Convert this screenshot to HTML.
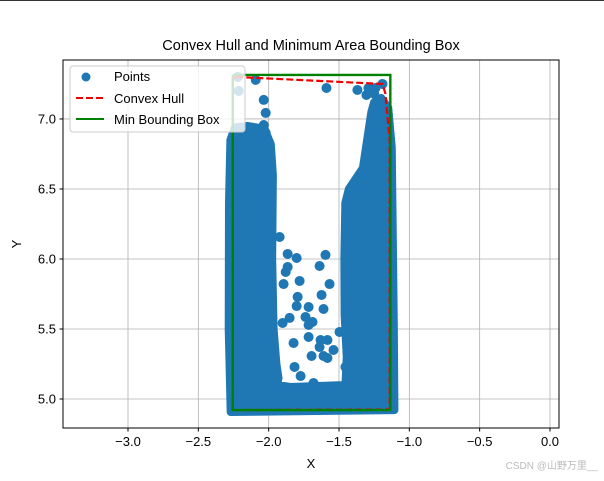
<!DOCTYPE html>
<html><head><meta charset="utf-8"><style>
body{margin:0;background:#fff;width:604px;height:476px;overflow:hidden}
svg text{font-family:"Liberation Sans","DejaVu Sans","Noto Sans CJK SC",sans-serif}
</style></head><body>
<svg id="chart" width="604" height="476" xmlns="http://www.w3.org/2000/svg">
<line x1="0" y1="0.5" x2="604" y2="0.5" stroke="#333" stroke-width="1"/>
<text x="311" y="50" font-size="14.5" text-anchor="middle">Convex Hull and Minimum Area Bounding Box</text>
<g id="grid"></g>
<g id="plot"></g>
<rect x="63" y="60" width="496" height="368" fill="none" stroke="#000" stroke-width="1"/>
<g id="ticks"></g>
<text x="311" y="468" font-size="13" text-anchor="middle">X</text>
<text x="21" y="244" font-size="13" text-anchor="middle" transform="rotate(-90 21 244)">Y</text>
<g>
<rect x="70" y="66" width="175" height="66" rx="3" fill="#fff" fill-opacity="0.8" stroke="#ccc"/>
<circle cx="86" cy="77" r="4.5" fill="#1f77b4"/>
<text x="114" y="81" font-size="13">Points</text>
<line x1="76" y1="98" x2="104" y2="98" stroke="#e00" stroke-width="2" stroke-dasharray="7,3"/>
<text x="114" y="103" font-size="13">Convex Hull</text>
<line x1="76" y1="119" x2="104" y2="119" stroke="#008000" stroke-width="2"/>
<text x="114" y="124" font-size="13">Min Bounding Box</text>
</g>
<text x="598" y="469" font-size="10" fill="#bbb" text-anchor="end">CSDN @山野万里__</text>
</svg>
<script>
const xTicks=[-3.0,-2.5,-2.0,-1.5,-1.0,-0.5,0.0];
const xTickLabels=["−3.0","−2.5","−2.0","−1.5","−1.0","−0.5","0.0"];
const yTicks=[5.0,5.5,6.0,6.5,7.0];
const yTickLabels=["5.0","5.5","6.0","6.5","7.0"];
const denseX=[-2.240,-2.150,-2.030,-1.985,-1.970,-1.975,-1.965,-1.945,-1.930,-1.940,-1.844,-1.454,-1.445,-1.460,-1.462,-1.455,-1.430,-1.330,-1.300,-1.270,-1.250,-1.200,-1.150,-1.125,-1.118,-1.110,-1.106,-2.270,-2.284,-2.282,-2.272];
const denseY=[6.940,6.950,6.930,6.820,6.600,6.000,5.500,5.250,5.150,5.100,5.086,5.100,5.300,5.600,6.000,6.400,6.500,6.650,6.850,7.050,7.120,7.150,7.080,6.800,6.200,5.500,4.921,4.907,5.500,6.400,6.850];
const ptX=[-2.220,-2.092,-1.589,-1.369,-1.291,-1.191,-1.241,-1.305,-2.035,-2.021,-2.035,-2.021,-2.213,-1.922,-1.865,-1.801,-1.596,-1.638,-1.865,-1.879,-1.780,-1.894,-1.567,-1.624,-1.794,-1.801,-1.716,-1.610,-1.738,-1.851,-1.688,-1.716,-1.901,-1.716,-1.631,-1.582,-1.539,-1.638,-1.823,-1.695,-1.610,-1.582,-1.816,-1.773,-1.681,-1.496,-1.454,-1.250];
const ptY=[7.300,7.279,7.221,7.207,7.221,7.250,7.221,7.171,7.136,7.043,6.957,6.900,7.200,6.157,6.036,6.007,6.029,5.950,5.943,5.907,5.843,5.821,5.821,5.743,5.729,5.664,5.657,5.643,5.586,5.579,5.550,5.529,5.543,5.443,5.421,5.421,5.350,5.371,5.400,5.307,5.307,5.293,5.229,5.164,5.114,5.479,5.229,7.180];
const hullX=[-2.23,-1.19,-1.17,-1.14,-1.14,-2.255,-2.255,-2.23];
const hullY=[7.30,7.25,7.18,6.85,4.925,4.921,7.29,7.30];
const boxX=[-2.255,-1.135,-1.135,-2.255,-2.255];
const boxY=[7.314,7.314,4.921,4.921,7.314];
const X0=-3.462,X1=0.064,Y0=4.793,Y1=7.421,L=63,R=559,T=60,B=428;
function sx(v){return L+(v-X0)/(X1-X0)*(R-L);}
function sy(v){return B-(v-Y0)/(Y1-Y0)*(B-T);}
const NS="http://www.w3.org/2000/svg";
function mk(tag,attrs,parent){const e=document.createElementNS(NS,tag);for(const k in attrs)e.setAttribute(k,attrs[k]);parent.appendChild(e);return e;}
const grid=document.getElementById('grid'),ticks=document.getElementById('ticks'),plot=document.getElementById('plot');
xTicks.forEach((v,i)=>{const x=sx(v);
const g=mk('line',{x1:x,y1:T,x2:x,y2:B,stroke:'#b0b0b0','stroke-width':0.8},grid);


const t=mk('line',{x1:x,y1:B,x2:x,y2:B+3.5,stroke:'#000'},ticks);


const l=mk('text',{x:x,y:B+18,'font-size':13,'text-anchor':'middle'},ticks);l.textContent=xTickLabels[i];

});
yTicks.forEach((v,i)=>{const y=sy(v);
const g=mk('line',{x1:L,y1:y,x2:R,y2:y,stroke:'#b0b0b0','stroke-width':0.8},grid);


const t=mk('line',{x1:L-3.5,y1:y,x2:L,y2:y,stroke:'#000'},ticks);


const l=mk('text',{x:L-7,y:y+4.5,'font-size':13,'text-anchor':'end'},ticks);l.textContent=yTickLabels[i];

});
const dp=denseX.map((v,i)=>sx(v)+','+sy(denseY[i])).join(' ');
const dense=mk('polygon',{points:dp,fill:'#1f77b4',stroke:'#1f77b4','stroke-width':8,'stroke-linejoin':'round'},plot);


ptX.forEach((v,i)=>{const c=mk('circle',{cx:sx(v),cy:sy(ptY[i]),r:5,fill:'#1f77b4'},plot);

});
const hull=mk('polyline',{points:hullX.map((v,i)=>sx(v)+','+sy(hullY[i])).join(' '),fill:'none',stroke:'#e00','stroke-width':2.2,'stroke-dasharray':'7,3'},plot);


const box=mk('polyline',{points:boxX.map((v,i)=>sx(v)+','+sy(boxY[i])).join(' '),fill:'none',stroke:'#008000','stroke-width':2.4},plot);


</script>
</body></html>
